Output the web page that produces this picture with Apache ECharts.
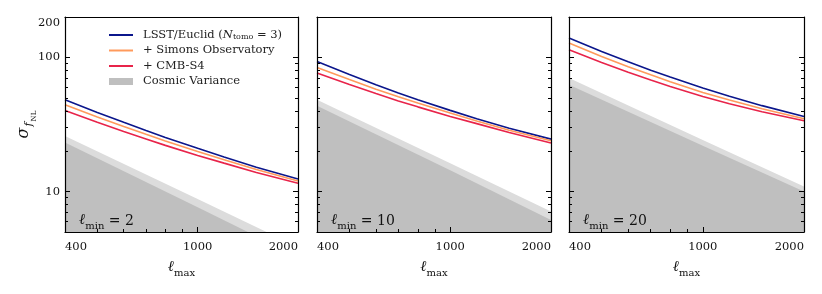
<!DOCTYPE html>
<html>
<head>
<meta charset="utf-8">
<script src="https://cdn.jsdelivr.net/npm/echarts@6/dist/echarts.min.js"></script>
<style>
html,body{margin:0;padding:0;background:#fff;}
#chart{width:822px;height:294px;}
</style>
</head>
<body>
<div id="chart"></div>
<script>
// ---- data ----
const ell = [400, 500, 600, 700, 800, 1000, 1200, 1500, 2000];

const lsst_lmin2 = [48.3, 38.9, 32.8, 28.5, 25.3, 21.0, 18.1, 15.2, 12.4];
const so_lmin2   = [44.4, 36.0, 30.6, 26.7, 23.8, 19.9, 17.3, 14.6, 12.0];
const s4_lmin2   = [40.2, 32.9, 28.1, 24.7, 22.1, 18.6, 16.3, 13.9, 11.55];

const lsst_lmin10 = [93.3, 74.6, 62.6, 54.4, 48.4, 40.3, 34.9, 29.7, 24.6];
const so_lmin10   = [84.1, 68.3, 58.0, 51.0, 45.8, 38.5, 33.6, 28.7, 23.9];
const s4_lmin10   = [76.6, 62.7, 53.8, 47.4, 42.8, 36.3, 32.1, 27.6, 23.0];

const lsst_lmin20 = [139.6, 110.8, 92.7, 80.3, 71.3, 59.2, 51.3, 43.7, 36.3];
const so_lmin20   = [128, 101.7, 85.3, 74.1, 65.9, 54.8, 48.1, 41.5, 34.9];
const s4_lmin20   = [114, 91.7, 77.6, 67.9, 60.8, 51.2, 45.2, 39.4, 33.7];

// cosmic variance (light band edge and dark region edge)
const cvLightEll_lmin2 = [400, 1000, 1610];
const cvLight_lmin2    = [26, 8.8, 5];
const cvDarkEll_lmin2  = [400, 1000, 1415];
const cvDark_lmin2     = [23.2, 7.66, 5];

const cvEll = [400, 1000, 2000];
const cvLight_lmin10 = [48.3, 16.3, 7.1];
const cvDark_lmin10  = [43.6, 14.4, 6.15];
const cvLight_lmin20 = [70.2, 24.2, 10.9];
const cvDark_lmin20  = [62.5, 22.0, 10.0];

const lminLabels = ['2', '10', '20'];
const xMajorTicks = [400, 1000, 2000];
const xMinorTicks = [500, 600, 700, 800, 900];
const yMajorTicks = [10, 100];
const yLabelTicks = [10, 100, 200];
const yMinorTicks = [6, 7, 8, 9, 20, 30, 40, 50, 60, 70, 80, 90];

const seriesNames = ['LSST/Euclid', '+ Simons Observatory', '+ CMB-S4', 'Cosmic Variance'];
// ---------------------------------------

const zip = (xs, ys) => xs.map((x, i) => [x, ys[i]]);

const panels = [
  {lsst: lsst_lmin2, so: so_lmin2, s4: s4_lmin2, lE: cvLightEll_lmin2, l: cvLight_lmin2, dE: cvDarkEll_lmin2, d: cvDark_lmin2},
  {lsst: lsst_lmin10, so: so_lmin10, s4: s4_lmin10, lE: cvEll, l: cvLight_lmin10, dE: cvEll, d: cvDark_lmin10},
  {lsst: lsst_lmin20, so: so_lmin20, s4: s4_lmin20, lE: cvEll, l: cvLight_lmin20, dE: cvEll, d: cvDark_lmin20}
];

const FONT = 'DejaVu Serif';
const colors = {lsst: '#0b168c', so: '#ff9a5c', s4: '#e8244a', cvLight: '#dcdcdc', cvDark: '#bfbfbf'};
const lefts = [65, 317, 569];
const widths = [233, 234, 235];
const frame = {color: '#000', width: 1.2};
const tickStyle = {color: '#000', width: 1};
const tickFont = {fontFamily: FONT, fontSize: 11.5, color: '#111'};

const grids = [], xAxes = [], yAxes = [], series = [], graphics = [];

panels.forEach((p, i) => {
  grids.push({left: lefts[i], top: 17, width: widths[i], height: 215, containLabel: false, outerBoundsMode: 'none'});
  const xb = {type: 'log', gridIndex: i, min: 400, max: 2000, z: 5, splitLine: {show: false}, minorTick: {show: false}};
  xAxes.push(Object.assign({}, xb, {
    position: 'bottom',
    axisLine: {show: true, onZero: false, lineStyle: frame},
    axisTick: {show: true, inside: true, length: 5, customValues: xMajorTicks, lineStyle: tickStyle},
    axisLabel: Object.assign({show: true, customValues: xMajorTicks, margin: 9, alignMinLabel: 'left', alignMaxLabel: 'right',
      formatter: v => String(Math.round(v))}, tickFont),
    name: '{l|ℓ}{s|max}', nameLocation: 'middle', nameGap: 28,
    nameTextStyle: {rich: {
      l: {fontFamily: FONT, fontSize: 15, fontStyle: 'italic', color: '#111', verticalAlign: 'bottom', padding: [0, 0, 3, 0]},
      s: {fontFamily: FONT, fontSize: 10, color: '#111', verticalAlign: 'bottom'}
    }}
  }));
  xAxes.push(Object.assign({}, xb, {
    position: 'bottom',
    axisLine: {show: false},
    axisTick: {show: true, inside: true, length: 3, customValues: xMinorTicks, lineStyle: tickStyle},
    axisLabel: {show: false}
  }));
  xAxes.push(Object.assign({}, xb, {
    position: 'top',
    axisLine: {show: true, onZero: false, lineStyle: frame},
    axisTick: {show: false}, axisLabel: {show: false}
  }));

  const yb = {type: 'log', gridIndex: i, min: 5, max: 200, z: 5, splitLine: {show: false}, minorTick: {show: false}};
  const yMain = Object.assign({}, yb, {
    position: 'left',
    axisLine: {show: true, onZero: false, lineStyle: frame},
    axisTick: {show: true, inside: true, length: 5, customValues: yMajorTicks, lineStyle: tickStyle},
    axisLabel: Object.assign({show: i === 0, customValues: yLabelTicks, margin: 5, verticalAlignMaxLabel: 'top',
      formatter: v => String(Math.round(v))}, tickFont)
  });
  if (i === 0) {
    Object.assign(yMain, {
      name: '{s|σ}{f|f}{n|NL}', nameLocation: 'middle', nameGap: 27, nameRotate: 90, nameMoveOverlap: false,
      nameTextStyle: {rich: {
        s: {fontFamily: FONT, fontSize: 16, fontStyle: 'italic', color: '#111', verticalAlign: 'bottom', padding: [0, 1, 6, 0]},
        f: {fontFamily: FONT, fontSize: 11, fontStyle: 'italic', color: '#111', verticalAlign: 'bottom', padding: [0, 1, 3, 0]},
        n: {fontFamily: FONT, fontSize: 7, color: '#111', verticalAlign: 'bottom'}
      }}
    });
  }
  yAxes.push(yMain);
  yAxes.push(Object.assign({}, yb, {
    position: 'left', axisLine: {show: false},
    axisTick: {show: true, inside: true, length: 3, customValues: yMinorTicks, lineStyle: tickStyle},
    axisLabel: {show: false}
  }));
  yAxes.push(Object.assign({}, yb, {
    position: 'right',
    axisLine: {show: true, onZero: false, lineStyle: frame},
    axisTick: {show: true, inside: true, length: 5, customValues: yMajorTicks, lineStyle: tickStyle},
    axisLabel: {show: false}
  }));
  yAxes.push(Object.assign({}, yb, {
    position: 'right', axisLine: {show: false},
    axisTick: {show: true, inside: true, length: 3, customValues: yMinorTicks, lineStyle: tickStyle},
    axisLabel: {show: false}
  }));

  const xi = i * 3, yi = i * 4;
  const base = {type: 'line', xAxisIndex: xi, yAxisIndex: yi, symbol: 'none', showSymbol: false, clip: true, animation: false};
  series.push(Object.assign({}, base, {
    name: 'cv_light', data: zip(p.lE, p.l), color: colors.cvLight, z: 1, silent: true,
    lineStyle: {width: 0, opacity: 0}, areaStyle: {color: colors.cvLight, opacity: 1}
  }));
  series.push(Object.assign({}, base, {
    name: seriesNames[3], data: zip(p.dE, p.d), color: colors.cvDark, z: 1, silent: true,
    lineStyle: {width: 0, opacity: 0}, areaStyle: {color: colors.cvDark, opacity: 1}
  }));
  [['lsst', 0], ['so', 1], ['s4', 2]].forEach(([k, n]) => {
    series.push(Object.assign({}, base, {
      name: seriesNames[n], data: zip(ell, p[k]), color: colors[k], z: 3,
      smooth: false,
      lineStyle: {width: 1.6, color: colors[k]}
    }));
  });

  graphics.push({
    type: 'text', left: lefts[i] + 14, top: 213, z: 10,
    style: {
      text: '{l|ℓ}{m|min}{e| = ' + lminLabels[i] + '}',
      rich: {
        l: {fontFamily: FONT, fontSize: 15, fontStyle: 'italic', fill: '#111', verticalAlign: 'bottom', padding: [0, 0, 3, 0]},
        m: {fontFamily: FONT, fontSize: 10, fill: '#111', verticalAlign: 'bottom'},
        e: {fontFamily: FONT, fontSize: 14, fill: '#111', verticalAlign: 'bottom', padding: [0, 0, 3, 0]}
      }
    }
  });
});

const hideSym = {opacity: 0};
const option = {
  backgroundColor: '#fff',
  animation: false,
  grid: grids,
  xAxis: xAxes,
  yAxis: yAxes,
  series: series,
  graphic: graphics,
  legend: {
    orient: 'vertical', left: 103, top: 24, itemWidth: 24, itemHeight: 7, itemGap: 3.5,
    selectedMode: false,
    data: [
      {name: seriesNames[0], itemStyle: hideSym}, {name: seriesNames[1], itemStyle: hideSym}, {name: seriesNames[2], itemStyle: hideSym},
      {name: seriesNames[3], icon: 'rect', itemStyle: {color: colors.cvDark, borderWidth: 0}}
    ],
    formatter: name => name === seriesNames[0]
      ? '{t|LSST/Euclid (}{i|N}{s|tomo}{t| = 3)}'
      : '{t|' + name + '}',
    textStyle: {
      fontFamily: FONT, fontSize: 11.5, color: '#222', padding: [0, 0, 0, 5],
      rich: {
        t: {fontFamily: FONT, fontSize: 11.5, color: '#222', lineHeight: 12},
        i: {fontFamily: FONT, fontSize: 11.5, fontStyle: 'italic', color: '#222', lineHeight: 12},
        s: {fontFamily: FONT, fontSize: 8, color: '#222', verticalAlign: 'bottom', lineHeight: 9}
      }
    }
  }
};

const chart = echarts.init(document.getElementById('chart'), null, {renderer: 'canvas'});
chart.setOption(option);
</script>
</body>
</html>
